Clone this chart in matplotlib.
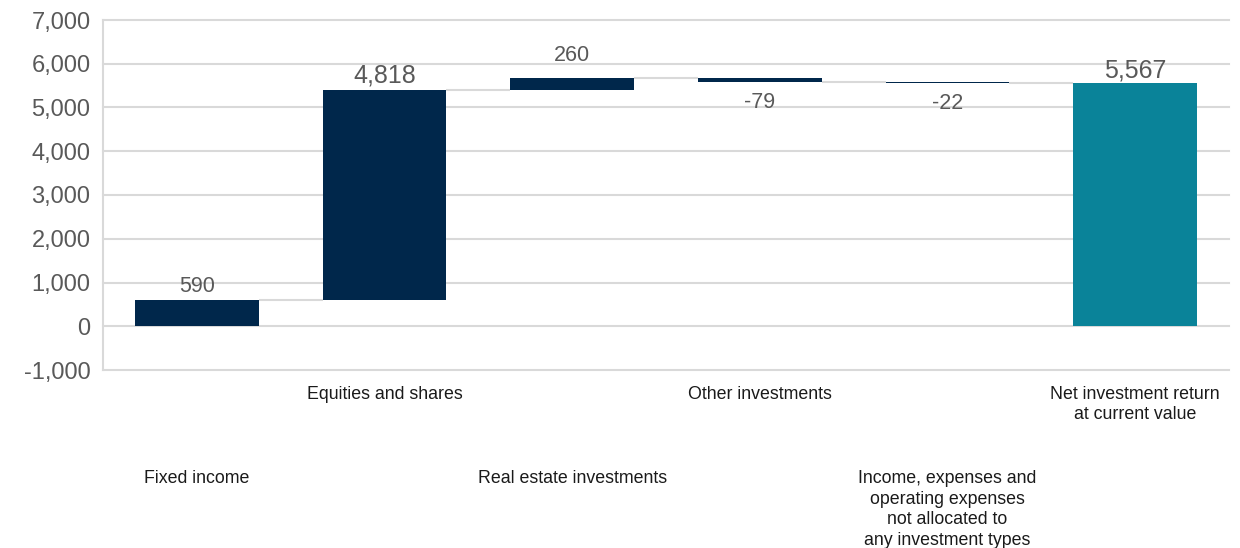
import matplotlib
matplotlib.use("Agg")
import matplotlib.pyplot as plt
import matplotlib.transforms as mtransforms
from matplotlib.ticker import FuncFormatter, MultipleLocator
import numpy as np

plt.rcParams['font.family'] = ['Liberation Sans', 'DejaVu Sans']

categories = [
    "Fixed income",
    "Equities and shares",
    "Real estate investments",
    "Other investments",
    "Income, expenses and\noperating expenses\nnot allocated to\nany investment types",
    "Net investment return\nat current value",
]
changes = [590, 4818, 260, -79, -22]
total = 5567

NAVY = "#00274b"
TEAL = "#0a8399"
GRID = "#d9d9d9"
LABEL_GREY = "#595959"

# running totals for the waterfall steps
ends = np.cumsum(changes)
starts = ends - np.array(changes)

fig = plt.figure(figsize=(12.4, 5.48), dpi=100)
ax = fig.add_axes([103 / 1240, 178 / 548, 1126 / 1240, 350 / 548])

x = np.arange(len(categories))
width = 0.66

bottoms = list(np.minimum(starts, ends)) + [0]
heights = list(np.abs(changes)) + [total]
colors = [NAVY] * len(changes) + [TEAL]
ax.bar(x, heights, width=width, bottom=bottoms, color=colors, zorder=3)

# connectors between consecutive bars
levels = list(ends)
for i, lvl in enumerate(levels):
    ax.plot([x[i] + width / 2, x[i + 1] - width / 2], [lvl, lvl],
            color=GRID, lw=1.5, zorder=2, solid_capstyle="butt")

# value labels
values = changes + [total]
tops = list(np.maximum(starts, ends)) + [total]
lows = list(np.minimum(starts, ends)) + [0]
sizes = [15.5, 18, 15.5, 15.5, 15.5, 18]
pads = [6, 5, 12.5, 7.5, 7.5, 3.5]
for i, v in enumerate(values):
    txt = f"{v:,}"
    if v >= 0:
        ax.annotate(txt, xy=(x[i], tops[i]), xytext=(0, pads[i]),
                    textcoords="offset points", ha="center", va="baseline",
                    fontsize=sizes[i], color=LABEL_GREY, zorder=4)
    else:
        ax.annotate(txt, xy=(x[i], lows[i]), xytext=(0, -pads[i]),
                    textcoords="offset points", ha="center", va="top",
                    fontsize=sizes[i], color=LABEL_GREY, zorder=4)

# staggered category labels under the plot
trans = mtransforms.blended_transform_factory(ax.transData, ax.transAxes)
for i, name in enumerate(categories):
    y = -0.045 if i % 2 else -0.286
    ax.text(x[i], y, name, transform=trans, ha="center", va="top",
            multialignment="center", fontsize=12.8, color="#1a1a1a",
            linespacing=1.28)

ax.set_xlim(-0.5, len(categories) - 0.5)
ax.set_ylim(-1000, 7000)
ax.yaxis.set_major_locator(MultipleLocator(1000))
ax.yaxis.set_major_formatter(FuncFormatter(lambda v, _: f"{v:,.0f}"))
ax.tick_params(axis="y", length=0, pad=9, labelsize=17, labelcolor=LABEL_GREY)
ax.set_xticks([])

ax.yaxis.grid(True, color=GRID, lw=1.5)
ax.set_axisbelow(True)
for gl in ax.get_ygridlines():
    gl.set_clip_on(False)
for side in ["top", "right", "bottom"]:
    ax.spines[side].set_visible(False)
ax.spines["left"].set_color(GRID)
ax.spines["left"].set_linewidth(1.5)

fig.savefig("out.png", dpi=100, facecolor="white")
